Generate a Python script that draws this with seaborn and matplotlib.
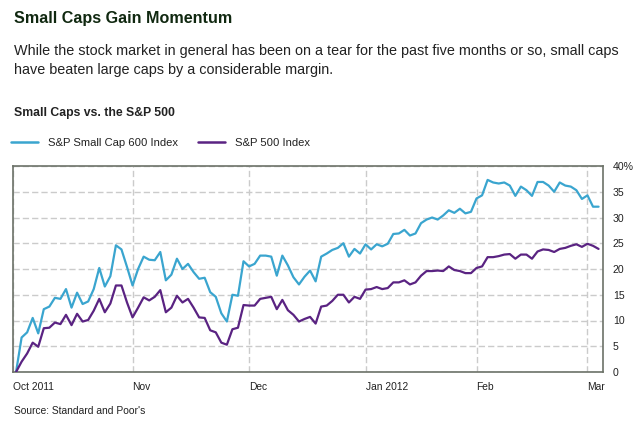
import numpy as np
import pandas as pd
import matplotlib
matplotlib.use("Agg")
import matplotlib.pyplot as plt
import seaborn as sns

# ---------------- data (percent change since start, trading days) ----------------
small_cap_600 = [
    0.0, 6.7, 7.7, 10.5, 7.5, 12.2, 12.7, 14.4, 14.2, 16.1,
    12.5, 15.4, 13.2, 13.7, 16.1, 20.2, 16.6, 18.6, 24.6, 23.8,
    20.4, 16.8, 20.0, 22.4, 21.8, 21.7, 23.3, 17.8, 18.9, 22.0,
    20.0, 21.0, 19.4, 18.1, 18.3, 15.5, 14.6, 11.4, 9.8, 15.0,
    14.8, 21.5, 20.5, 21.0, 22.6, 22.6, 22.4, 18.7, 22.6, 20.7,
    18.4, 17.0, 18.5, 19.7, 17.6, 22.4, 23.0, 23.7, 24.1, 25.0,
    22.4, 23.9, 23.0, 24.8, 23.8, 24.8, 24.4, 24.9, 26.8, 26.9,
    27.6, 26.5, 26.9, 28.9, 29.6, 30.0, 29.6, 30.4, 31.4, 30.9,
    31.7, 30.8, 31.1, 33.7, 34.3, 37.3, 36.8, 36.6, 36.8, 36.2,
    34.2, 36.0, 35.3, 34.2, 36.9, 36.9, 36.2, 35.0, 36.8, 36.2,
    36.0, 35.3, 33.6, 34.3, 32.1, 32.1,
]
sp_500 = [
    0.0, 2.0, 3.6, 5.7, 4.9, 8.5, 8.6, 9.6, 9.3, 11.1,
    9.1, 11.3, 9.8, 10.1, 11.9, 14.2, 11.6, 13.3, 16.8, 16.8,
    13.5, 10.6, 12.5, 14.5, 13.9, 14.6, 15.9, 11.6, 12.5, 14.8,
    13.5, 14.2, 12.5, 10.6, 10.5, 8.1, 7.7, 5.7, 5.3, 8.3,
    8.6, 13.0, 12.9, 12.9, 14.2, 14.4, 14.6, 12.2, 14.0, 12.0,
    11.1, 9.8, 10.3, 10.7, 9.4, 12.7, 12.9, 13.8, 15.0, 15.0,
    13.5, 14.6, 14.2, 16.0, 16.1, 16.5, 16.1, 16.3, 17.4, 17.4,
    17.8, 17.0, 17.4, 18.7, 19.6, 19.6, 19.7, 19.6, 20.5, 19.8,
    19.6, 19.2, 19.2, 20.2, 20.5, 22.3, 22.3, 22.5, 22.8, 22.9,
    22.0, 22.8, 22.8, 22.0, 23.4, 23.8, 23.7, 23.3, 23.9, 24.1,
    24.5, 24.8, 24.3, 24.9, 24.5, 23.9,
]
series_names = ["S&P Small Cap 600 Index", "S&P 500 Index"]
month_labels = ["Oct 2011", "Nov", "Dec", "Jan 2012", "Feb", "Mar"]
month_tick_idx = [-0.55, 21, 42, 63, 83, 103]   # trading-day index of month starts
y_ticks = [0, 5, 10, 15, 20, 25, 30, 35, 40]
y_tick_labels = ["0", "5", "10", "15", "20", "25", "30", "35", "40%"]

title = "Small Caps Gain Momentum"
subtitle = ("While the stock market in general has been on a tear for the past five months or so, small caps\n"
            "have beaten large caps by a considerable margin.")
chart_title = "Small Caps vs. the S&P 500"
source = "Source: Standard and Poor's"

# ---------------- dataframe ----------------
df = pd.concat([
    pd.DataFrame({"day": np.arange(len(small_cap_600)), "value": small_cap_600, "series": series_names[0]}),
    pd.DataFrame({"day": np.arange(len(sp_500)), "value": sp_500, "series": series_names[1]}),
], ignore_index=True)

# ---------------- style ----------------
sns.set_style("white")
plt.rcParams["font.family"] = ["Liberation Sans", "DejaVu Sans"]

BLUE = "#3aa5cf"
PURPLE = "#5a2382"
GRID = "#cbcbcb"
BORDER = "#6c7268"
TXT = "#222222"

W, H = 640, 429
fig = plt.figure(figsize=(W / 100, H / 100), dpi=100)
fig.patch.set_facecolor("white")

ax_l, ax_r, ax_t, ax_b = 13, 603, 166, 372
ax = fig.add_axes([ax_l / W, 1 - ax_b / H, (ax_r - ax_l) / W, (ax_b - ax_t) / H])

sns.lineplot(data=df, x="day", y="value", hue="series",
             palette={series_names[0]: BLUE, series_names[1]: PURPLE},
             linewidth=1.6, ax=ax, legend=False, zorder=3)

ax.set_xlim(-0.55, 105.8)
ax.set_ylim(0, 40)
ax.set_xlabel("")
ax.set_ylabel("")

# grid
ax.set_axisbelow(True)
ax.set_yticks(y_ticks)
ax.set_yticklabels(y_tick_labels)
ax.set_xticks(month_tick_idx)
ax.set_xticklabels(month_labels)
ax.grid(True, color=GRID, linestyle=(0, (4.5, 2.2)), linewidth=1.0)

ax.yaxis.tick_right()
ax.tick_params(axis="y", length=0, pad=7, labelsize=7.6, labelcolor=TXT)
ax.tick_params(axis="x", length=0, pad=7, labelsize=7.4, labelcolor=TXT)
for lbl in ax.get_yticklabels():
    lbl.set_horizontalalignment("left")
for lbl in ax.get_xticklabels():
    lbl.set_horizontalalignment("left")

for s in ax.spines.values():
    s.set_visible(True)
    s.set_color(BORDER)
    s.set_linewidth(1.2)

# legend
handles = [plt.Line2D([], [], color=BLUE, linewidth=1.8),
           plt.Line2D([], [], color=PURPLE, linewidth=1.8)]
fig.legend(handles, series_names, loc="center left",
           bbox_to_anchor=(11 / W, 1 - 143 / H), ncol=2, frameon=False,
           fontsize=8.1, handlelength=2.4, handletextpad=0.9,
           columnspacing=1.75, borderpad=0, borderaxespad=0,
           labelcolor=TXT)

# texts
fig.text(14 / W, 1 - 18.5 / H, title, fontsize=11.6, fontweight="bold",
         color="#102810", ha="left", va="center")
fig.text(14 / W, 1 - 60.5 / H, subtitle, fontsize=10.4, color=TXT,
         ha="left", va="center", linespacing=1.42)
fig.text(14 / W, 1 - 113 / H, chart_title, fontsize=8.8, fontweight="bold",
         color=TXT, ha="left", va="center")
fig.text(14 / W, 1 - 411 / H, source, fontsize=7.4, color=TXT,
         ha="left", va="center")

fig.savefig("out.png", dpi=100, facecolor="white")
